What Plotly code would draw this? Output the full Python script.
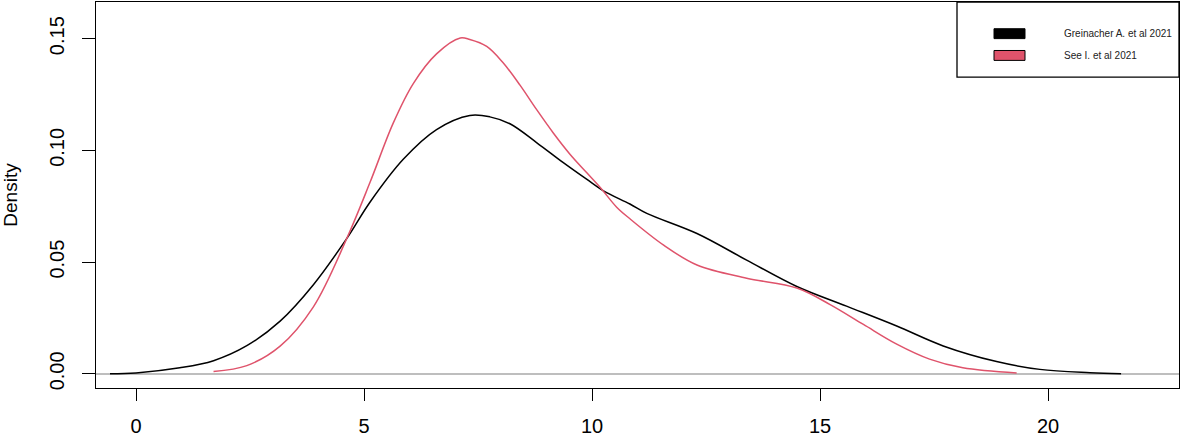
import plotly.graph_objects as go

# density curves
greinacher_x = [-0.57, 0.0, 0.96, 1.70, 2.43, 3.16, 3.89, 4.62, 5.13, 5.86, 6.59, 7.32,
                7.76, 8.20, 8.79, 9.37, 9.88, 10.25, 10.83, 11.2, 12.3, 13.39, 14.49,
                15.58, 16.68, 17.7, 18.87, 19.82, 20.92, 21.6]
greinacher_y = [0.0000, 0.0004, 0.0027, 0.0059, 0.0126, 0.0236, 0.0399, 0.0605, 0.0768,
                0.0960, 0.1093, 0.1156, 0.1150, 0.1119, 0.1034, 0.0945, 0.0871, 0.0819,
                0.0760, 0.0718, 0.0628, 0.0509, 0.0391, 0.0303, 0.0214, 0.0125, 0.0055,
                0.0020, 0.0005, 0.0000]

see_x = [1.70, 2.43, 3.16, 3.89, 4.62, 5.13, 5.64, 6.08, 6.59, 7.11, 7.32, 7.69, 8.05,
         8.42, 8.79, 9.15, 9.52, 9.88, 10.18, 10.54, 10.83, 11.57, 12.3, 13.39, 14.49,
         15.22, 15.95, 16.68, 17.4, 18.13, 19.31]
see_y = [0.0011, 0.0037, 0.0124, 0.0300, 0.0605, 0.0856, 0.1122, 0.1299, 0.1432, 0.1503,
         0.1496, 0.1465, 0.1392, 0.1292, 0.1181, 0.1078, 0.0982, 0.0901, 0.0834, 0.0746,
         0.0694, 0.0576, 0.0487, 0.0428, 0.0384, 0.0310, 0.0221, 0.0133, 0.0066, 0.0027,
         0.0004]

series_names = ["Greinacher A. et al 2021", "See I. et al 2021"]
series_colors = ["black", "#DF536B"]

x_ticks = [0, 5, 10, 15, 20]
y_ticks = [0.0, 0.05, 0.10, 0.15]

W, H = 1181, 438
L, R, T, B = 96, 2, 1, 47


def px(x):
    return (x - L) / (W - L - R)


def py(y):
    return 1 - (y - T) / (H - T - B)


fig = go.Figure()

for xs, ys, name, color in zip([greinacher_x, see_x], [greinacher_y, see_y],
                               series_names, series_colors):
    fig.add_trace(go.Scatter(
        x=xs, y=ys, name=name, mode="lines",
        line=dict(color=color, width=1.5, shape="spline", smoothing=1.0),
        showlegend=False,
    ))

# legend drawn like R's legend(): box, filled rects and labels
fig.add_shape(type="rect", xref="paper", yref="paper",
              x0=px(957), x1=1.0, y0=py(77), y1=1.0,
              line=dict(color="black", width=1.3), fillcolor="white", layer="above")
for i, (name, color) in enumerate(zip(series_names, series_colors)):
    yc = 33 + i * 22
    fig.add_shape(type="rect", xref="paper", yref="paper",
                  x0=px(994), x1=px(1025), y0=py(yc + 5), y1=py(yc - 5),
                  line=dict(color="black", width=1), fillcolor=color, layer="above")
    fig.add_annotation(text=name, xref="paper", yref="paper",
                       x=px(1062), y=py(yc), xanchor="left", yanchor="middle",
                       showarrow=False,
                       font=dict(size=10, color="#222", family="Liberation Sans, Arial"))

fig.update_xaxes(
    range=[-0.877, 22.87], tickvals=x_ticks, ticks="outside", ticklen=12,
    tickcolor="black", tickwidth=1.3,
    showline=True, mirror=True, linecolor="black", linewidth=1.3,
    showgrid=False, zeroline=False, ticklabelstandoff=8,
    tickfont=dict(size=20, color="black"),
)
fig.update_yaxes(
    range=[-0.00633, 0.1664], tickvals=y_ticks, tickformat=".2f", ticks="outside",
    ticklen=13, tickcolor="black", tickwidth=1.3, tickangle=-90,
    showline=True, mirror=True, linecolor="black", linewidth=1.3,
    showgrid=False, zeroline=True, zerolinecolor="#BEBEBE", zerolinewidth=2,
    ticklabelstandoff=10,
    tickfont=dict(size=20, color="black"),
    title=dict(text="Density", font=dict(size=19, color="black"), standoff=28),
)

fig.update_layout(
    width=W, height=H,
    margin=dict(l=L, r=R, t=T, b=B),
    paper_bgcolor="white", plot_bgcolor="white",
    font=dict(family="Liberation Sans, Arial, sans-serif"),
    showlegend=False,
)

# the page's default 8px body margin would push the figure off the window
fig.write_html("out.html", config={"displayModeBar": False},
               post_script="document.body.style.margin='0';")
